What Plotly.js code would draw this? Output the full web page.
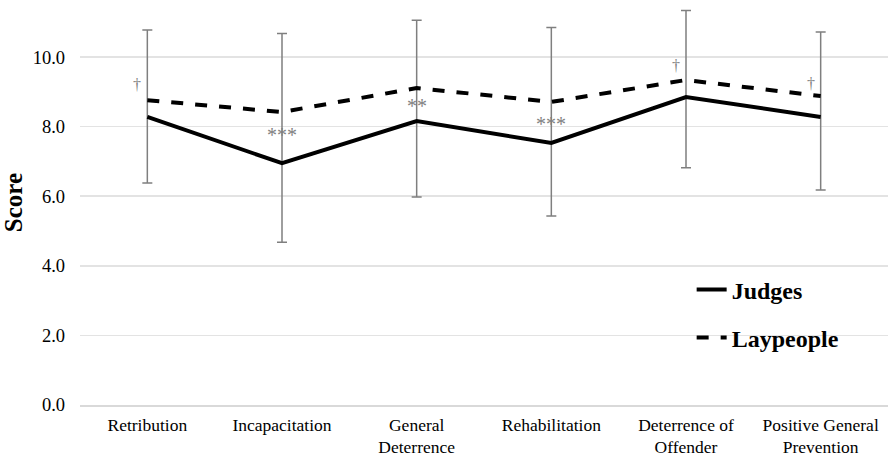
<!DOCTYPE html>
<html>
<head>
<meta charset="utf-8">
<script src="https://cdn.plot.ly/plotly-3.0.1.min.js"></script>
<style>html,body{margin:0;padding:0;background:#fff;}#chart{width:888px;height:460px;}</style>
</head>
<body>
<div id="chart"></div>
<script>
var categories = ["Retribution", "Incapacitation", "General<br>Deterrence", "Rehabilitation", "Deterrence of<br>Offender", "Positive General<br>Prevention"];
var judges = [8.28, 6.95, 8.16, 7.53, 8.85, 8.28];
var laypeople = [8.76, 8.42, 9.11, 8.71, 9.34, 8.88];
var judgesSD = [1.90, 2.27, 2.18, 2.10, 2.03, 2.10];
var laypeopleSD = [2.02, 2.26, 1.95, 2.14, 2.00, 1.84];
var sigMarks = ["†", "***", "**", "***", "†", "†"];
var sigY = [9.2, 7.75, 8.6, 8.08, 9.75, 9.25];
var yTicks = [0, 2, 4, 6, 8, 10];
var yTickLabels = ["0.0", "2.0", "4.0", "6.0", "8.0", "10.0"];

var serif = "Liberation Serif, Times New Roman, serif";

// error bars span from Judges mean - SD up to Laypeople mean + SD
var upper = laypeople.map(function (v, i) { return v + laypeopleSD[i] - judges[i]; });

var traces = [
  {
    x: categories, y: judges, name: "Judges", type: "scatter", mode: "lines",
    line: {color: "#000", width: 4},
    legendgroup: "a",
    error_y: {type: "data", symmetric: false, array: upper, arrayminus: judgesSD,
              color: "#7f7f7f", thickness: 1.5, width: 5}
  },
  {
    x: categories, y: laypeople, name: "Laypeople", type: "scatter", mode: "lines",
    line: {color: "#000", width: 4, dash: "dash"},
    legendgroup: "b"
  }
];

var annotations = categories.map(function (c, i) {
  var isDagger = sigMarks[i] === "†";
  return {
    x: c, y: sigY[i], xref: "x", yref: "y", text: sigMarks[i], showarrow: false,
    xshift: isDagger ? -10 : 0,
    font: {family: serif, size: isDagger ? 16 : 20, color: "#7f7f7f"}
  };
});

var layout = {
  width: 888, height: 460,
  margin: {l: 80, r: 0, t: 0, b: 55},
  paper_bgcolor: "#fff", plot_bgcolor: "#fff",
  showlegend: true,
  legend: {
    x: 0.757, y: 0.34, xanchor: "left", yanchor: "top",
    bgcolor: "rgba(255,255,255,0)", tracegroupgap: 14,
    font: {family: serif, size: 24, color: "#000", weight: "bold"}
  },
  xaxis: {
    type: "category", range: [-0.5, 5.5], showgrid: false, zeroline: false,
    showline: true, linecolor: "#d9d9d9", linewidth: 1.5,
    ticks: "", ticklabelstandoff: 3,
    tickfont: {family: serif, size: 17.5, color: "#000"}
  },
  yaxis: {
    range: [0, 11.64], tickvals: yTicks, ticktext: yTickLabels,
    showgrid: true, gridcolor: "#e3e3e3", gridwidth: 1.5, zeroline: false,
    showline: false, ticks: "", ticklabelstandoff: 14,
    tickfont: {family: serif, size: 18.5, color: "#000"},
    title: {text: "Score", standoff: 8, font: {family: serif, size: 25, color: "#000", weight: "bold"}}
  },
  shapes: [
    {type: "rect", xref: "paper", yref: "y", x0: 0.66, x1: 1.0, y0: 0.3, y1: 4.6,
     fillcolor: "#fff", line: {width: 0}, layer: "between"}
  ],
  annotations: annotations
};

Plotly.newPlot("chart", traces, layout, {displayModeBar: false, staticPlot: true});
</script>
</body>
</html>
